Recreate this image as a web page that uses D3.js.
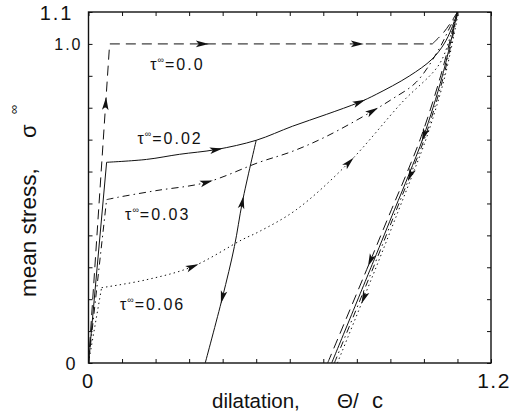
<!DOCTYPE html>
<html><head><meta charset="utf-8">
<script src="https://cdn.jsdelivr.net/npm/d3@7"></script>
<style>
html,body{margin:0;padding:0;background:#fff;}
svg{display:block;}
text{font-family:"Liberation Sans",Arial,Helvetica,sans-serif;fill:#111;}
</style></head>
<body>
<svg id="chart" width="517" height="418"></svg>
<script>
// ---------- data (theta/c, sigma) ----------
const xTicks = [0,0.1,0.2,0.3,0.4,0.5,0.6,0.7,0.8,0.9,1.0,1.1,1.2];
const yTicks = [0,0.1,0.2,0.3,0.4,0.5,0.6,0.7,0.8,0.9,1.0,1.1];
const xTickLabels = [{v:0,t:"0"},{v:1.2,t:"1.2"}];
const yTickLabels = [{v:0,t:"0"},{v:1.0,t:"1.0"},{v:1.1,t:"1.1"}];

// loading paths
const tau000Load = [[0,0],[0.063,1.0],[1.025,1.0],[1.058,1.035],[1.082,1.07],[1.100,1.1]];
const tau002Load = [[0,0],[0.054,0.629],[0.173,0.638],[0.271,0.654],[0.381,0.669],[0.500,0.698],[0.608,0.742],[0.709,0.779],[0.807,0.817],[0.858,0.842],[0.956,0.899],[1.024,0.952],[1.060,1.0],[1.082,1.047],[1.100,1.1]];
const tau003Load = [[0,0],[0.054,0.512],[0.086,0.519],[0.200,0.540],[0.351,0.566],[0.509,0.629],[0.607,0.663],[0.709,0.710],[0.846,0.789],[0.905,0.827],[0.977,0.880],[1.045,0.984],[1.075,1.047],[1.100,1.1]];
const tau006Load = [[0,0],[0.039,0.236],[0.173,0.261],[0.310,0.302],[0.459,0.387],[0.509,0.412],[0.619,0.480],[0.777,0.629],[0.935,0.817],[1.045,0.935],[1.081,1.031],[1.100,1.1]];
// partial unload/reload for tau=0.02
const tau002Partial = [[0.348,0],[0.399,0.204],[0.435,0.365],[0.459,0.506],[0.500,0.698]];
// unloading lines (listed from sigma=0 upward)
const tau000Unload = [[0.713,0],[0.839,0.317],[0.903,0.48],[0.947,0.59],[0.992,0.71],[1.050,0.90],[1.099,1.1]];
const tau002Unload = [[0.725,0],[0.849,0.317],[0.912,0.48],[0.955,0.59],[0.999,0.71],[1.055,0.90],[1.100,1.1]];
const tau003Unload = [[0.733,0],[0.856,0.317],[0.918,0.48],[0.960,0.59],[1.004,0.71],[1.059,0.90],[1.101,1.1]];
const tau006Unload = [[0.742,0],[0.864,0.317],[0.925,0.48],[0.966,0.59],[1.009,0.71],[1.063,0.90],[1.103,1.1]];

// curve labels
const curveLabels = [
  {tau:"0.0",  x:0.184, y:0.917},
  {tau:"0.02", x:0.146, y:0.685},
  {tau:"0.03", x:0.109, y:0.449},
  {tau:"0.06", x:0.094, y:0.166}
];

// ---------- chart ----------
const svg = d3.select("#chart");
const x = d3.scaleLinear().domain([0,1.2]).range([88.5,491]);
const y = d3.scaleLinear().domain([0,1.1]).range([363,12]);

const styles = {
  dashed:  {dash:"10,6"},
  solid:   {dash:null},
  dashdot: {dash:"7,4,1.5,4"},
  dotted:  {dash:"1.4,3.2"}
};

const lineLin = d3.line().x(d=>x(d[0])).y(d=>y(d[1]));
const lineCur = d3.line().x(d=>x(d[0])).y(d=>y(d[1])).curve(d3.curveCatmullRom.alpha(0.5));

const gCurves = svg.append("g");
const paths = {};
function draw(name, data, style, kinks){
  const lin = data.slice(0, kinks);
  const cur = data.slice(kinks-1);
  const g = gCurves.append("g");
  [ [lin,lineLin], [cur,lineCur] ].forEach(([pts,gen])=>{
    if (pts.length<2) return;
    const p = g.append("path").attr("d", gen(pts)).attr("fill","none")
      .attr("stroke","#111").attr("stroke-width",1)
      .attr("stroke-dasharray", styles[style].dash);
    (paths[name] = paths[name] || []).push(p.node());
  });
}
draw("l000", tau000Load, "dashed", 3);
draw("l002", tau002Load, "solid", 2);
draw("l003", tau003Load, "dashdot", 2);
draw("l006", tau006Load, "dotted", 2);
draw("p002", tau002Partial, "solid", 1);
draw("u000", tau000Unload, "dashed", 1);
draw("u002", tau002Unload, "solid", 1);
draw("u003", tau003Unload, "dashdot", 1);
draw("u006", tau006Unload, "dotted", 1);

// arrows: [path name, theta, sigma, direction along path]
const arrows = [
  ["l000",0.055,0.815, 1],["l000",0.341,1.0, 1],["l000",0.803,1.0, 1],
  ["l002",0.383,0.669, 1],["l002",0.809,0.817, 1],
  ["l003",0.353,0.566, 1],["l003",0.848,0.789, 1],
  ["l006",0.311,0.302, 1],["l006",0.779,0.629, 1],
  ["p002",0.459,0.505, 1],["p002",0.399,0.204,-1],
  ["u002",1.004,0.711,-1],["u003",0.952,0.589,-1],
  ["u000",0.845,0.317,-1],["u006",0.835,0.197,-1]
];
const gArrows = svg.append("g");
arrows.forEach(([name,tx,ty,dir])=>{
  const px = x(tx), py = y(ty);
  let best = null;
  paths[name].forEach(node=>{
    const L = node.getTotalLength();
    for (let l=0; l<=L; l+=0.5){
      const p = node.getPointAtLength(l);
      const d = (p.x-px)**2 + (p.y-py)**2;
      if (!best || d<best.d) best = {d, l, node, L};
    }
  });
  const {node,l,L} = best;
  const a = node.getPointAtLength(Math.max(0,l-2));
  const b = node.getPointAtLength(Math.min(L,l+2));
  const c = node.getPointAtLength(l);
  let ang = Math.atan2(b.y-a.y, b.x-a.x)*180/Math.PI;
  if (dir<0) ang += 180;
  gArrows.append("path")
    .attr("d","M6,0 L-7,-3.3 L-4,0 L-7,3.3 Z")
    .attr("fill","#111")
    .attr("transform",`translate(${c.x},${c.y}) rotate(${ang})`);
});

// ticks (inward on all four sides)
function ticks(axis, tr){
  const g = svg.append("g").attr("transform",tr).call(axis);
  g.select(".domain").remove();
  g.selectAll("line").attr("stroke","#111").attr("stroke-width",1);
  g.selectAll("text").remove();
}
ticks(d3.axisBottom(x).tickValues(xTicks).tickSize(-4), `translate(0,${y(0)})`);
ticks(d3.axisTop(x).tickValues(xTicks).tickSize(-4), `translate(0,${y(1.1)})`);
ticks(d3.axisLeft(y).tickValues(yTicks).tickSize(-4), `translate(${x(0)},0)`);
ticks(d3.axisRight(y).tickValues(yTicks).tickSize(-4), `translate(${x(1.2)},0)`);

// frame
svg.append("rect").attr("x",x(0)).attr("y",y(1.1))
  .attr("width",x(1.2)-x(0)).attr("height",y(0)-y(1.1))
  .attr("fill","none").attr("stroke","#111").attr("stroke-width",1.4);

// tick labels
const ySizes = {"0":18,"1.0":16,"1.1":20};
const yOffX = {"0":-13,"1.0":-6,"1.1":-15};
const yOffY = {"0":7,"1.0":6,"1.1":8};
yTickLabels.forEach(d=>{
  svg.append("text").attr("x",x(0)+yOffX[d.t]).attr("y",y(d.v)+yOffY[d.t])
    .attr("text-anchor","end").attr("font-size",ySizes[d.t])
    .attr("letter-spacing", d.t==="0"?0:2).text(d.t);
});
xTickLabels.forEach(d=>{
  svg.append("text").attr("x",x(d.v)+(d.v===0?-1:3)).attr("y",y(0)+25)
    .attr("text-anchor","middle").attr("font-size",d.v===0?20:21)
    .attr("letter-spacing", d.v===0?0:1.5).text(d.t);
});

// axis titles
svg.append("text").attr("x",212).attr("y",408).attr("font-size",20.5).text("dilatation,");
svg.append("text").attr("x",337).attr("y",408).attr("font-size",20.5).text("Θ/");
svg.append("text").attr("x",372).attr("y",408).attr("font-size",22).text("c");

const gy = svg.append("g").attr("transform","translate(36,297) rotate(-90)");
gy.append("text").attr("x",0).attr("y",0).attr("font-size",22.5).text("mean stress,");
gy.append("text").attr("x",159).attr("y",0).attr("font-size",22).text("σ");
gy.append("text").attr("x",183).attr("y",-18).attr("font-size",13).text("∞");

// curve labels
curveLabels.forEach(d=>{
  const t = svg.append("text").attr("x",x(d.x)).attr("y",y(d.y)).attr("font-size",16);
  t.append("tspan").text("τ");
  t.append("tspan").attr("font-size",9).attr("dy",-7).attr("dx",1).text("∞");
  t.append("tspan").attr("dy",7).attr("dx",1).attr("letter-spacing",2).text("=" + d.tau);
});
</script>
</body></html>
